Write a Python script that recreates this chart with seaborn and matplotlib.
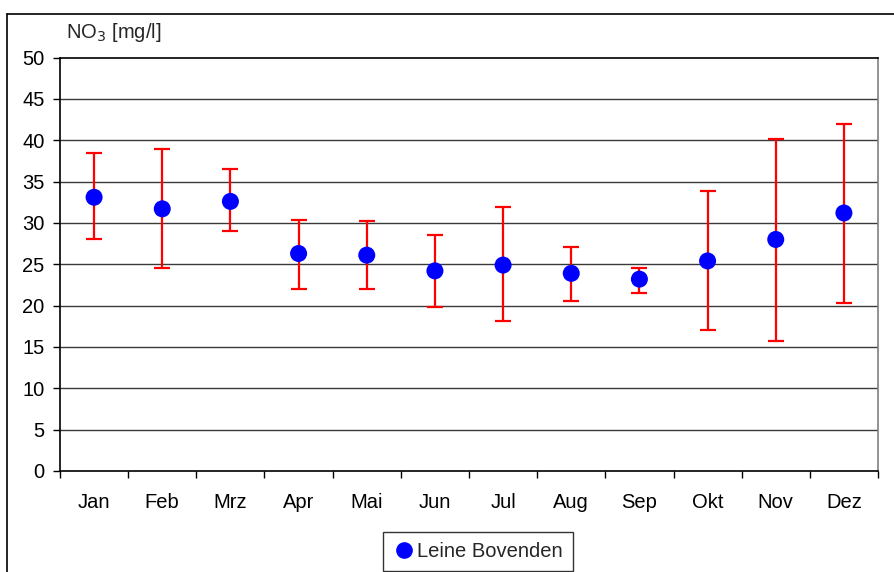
import numpy as np
import pandas as pd
import seaborn as sns
import matplotlib
matplotlib.use("Agg")
import matplotlib.pyplot as plt
from matplotlib.lines import Line2D

months = ["Jan", "Feb", "Mrz", "Apr", "Mai", "Jun", "Jul", "Aug", "Sep", "Okt", "Nov", "Dez"]
mean_vals = [33.1, 31.7, 32.6, 26.3, 26.1, 24.2, 24.9, 23.9, 23.2, 25.4, 28.0, 31.2]
upper_vals = [38.4, 38.9, 36.5, 30.4, 30.2, 28.5, 31.9, 27.1, 24.6, 33.8, 40.1, 42.0]
lower_vals = [28.0, 24.6, 29.0, 22.0, 22.0, 19.8, 18.1, 20.5, 21.5, 17.1, 15.7, 20.3]
series_name = "Leine Bovenden"
y_ticks = [0, 5, 10, 15, 20, 25, 30, 35, 40, 45, 50]

sns.set_style("white")
plt.rcParams['font.family'] = ['Liberation Sans', 'DejaVu Sans']

FS = 14.5

df = pd.DataFrame({"month": months, "mean": mean_vals, "upper": upper_vals, "lower": lower_vals})
df["x"] = np.arange(len(df))

fig = plt.figure(figsize=(8.95, 5.72), dpi=100)
ax = fig.add_axes([60/895, 1-471/572, (878-60)/895, (471-57.5)/572])

yerr = np.vstack([df["mean"] - df["lower"], df["upper"] - df["mean"]])
ax.errorbar(df["x"], df["mean"], yerr=yerr, fmt="none", ecolor="#ff0000",
            elinewidth=1.6, capsize=6, capthick=1.6, zorder=3)
sns.scatterplot(data=df, x="x", y="mean", ax=ax, color="#0000ff", s=150,
                edgecolor="none", zorder=4, legend=False)

ax.set_xlim(-0.5, len(months) - 0.5)
ax.set_ylim(0, 50)
ax.set_yticks(y_ticks)
ax.set_xticks(df["x"])
ax.set_xticklabels(months)
ax.set_xticks(np.arange(-0.5, len(months), 1.0), minor=True)
ax.set_xlabel("")
ax.set_ylabel("")

for v in y_ticks[1:-1]:
    ax.axhline(v, color="#3a3a3a", lw=1.0, zorder=1)

ax.tick_params(axis="x", which="major", length=0, pad=16, labelsize=FS, colors="black")
ax.tick_params(axis="x", which="minor", length=5, width=1, direction="out", color="black", bottom=True)
ax.tick_params(axis="y", which="major", length=5, width=1, direction="out", pad=6,
               labelsize=FS, left=True, colors="black")

for s in ["left", "bottom", "top"]:
    ax.spines[s].set_color("black")
    ax.spines[s].set_linewidth(1.2)
ax.spines["right"].set_color("#808080")
ax.spines["right"].set_linewidth(1.2)

fig.text(66/895, 1-33/572, "NO$_3$ [mg/l]", fontsize=FS, va="center", ha="left")

# outer chart border
fig.add_artist(Line2D([7.5/895, 7.5/895], [0, 1-14/572], color="black", lw=1.2, transform=fig.transFigure))
fig.add_artist(Line2D([7.5/895, 1], [1-14/572, 1-14/572], color="black", lw=1.2, transform=fig.transFigure))

handle = Line2D([], [], marker="o", color="#0000ff", linestyle="none", markersize=11)
leg = fig.legend([handle], [series_name], loc="upper center",
                 bbox_to_anchor=(478/895, 1-532/572), frameon=True, fancybox=False,
                 edgecolor="black", fontsize=FS, handletextpad=0.1, borderpad=0.5,
                 handlelength=1.1, borderaxespad=0)
leg.get_frame().set_linewidth(1.0)

fig.savefig("out.png", dpi=100)
